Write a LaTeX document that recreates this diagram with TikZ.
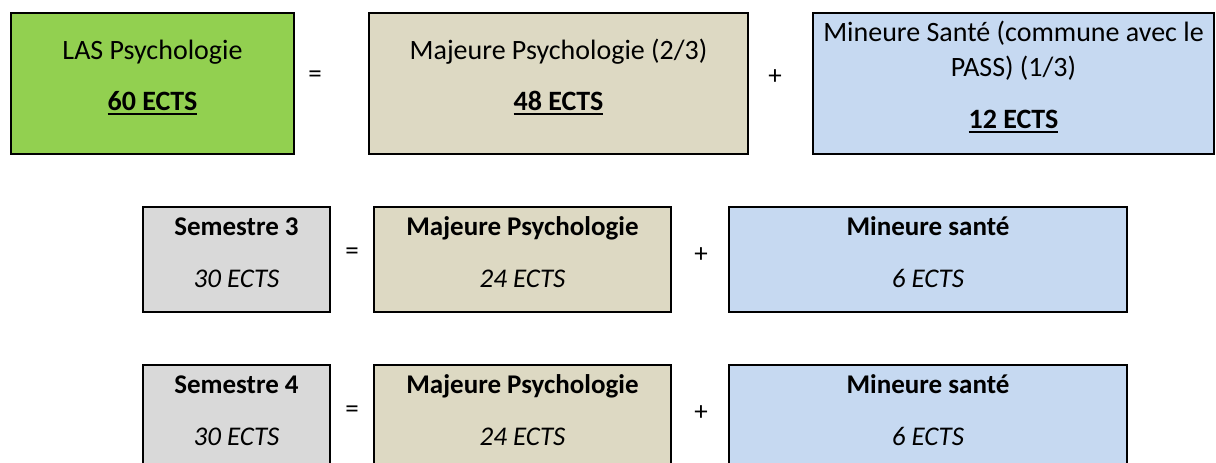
\documentclass[tikz,border=0pt]{standalone}
\usepackage{fontspec}
\setmainfont{Carlito}
\usepackage{tikz}
\definecolor{lasgreen}{RGB}{146,208,80}
\definecolor{majtan}{RGB}{221,217,195}
\definecolor{minblue}{RGB}{198,217,241}
\definecolor{semgray}{RGB}{217,217,217}
\newcommand{\ectsline}[1]{\setbox0\hbox{#1}\rlap{\rule[-5pt]{\wd0}{1.8pt}}\box0}

\begin{document}
\begin{tikzpicture}[x=1pt,y=-1pt,
    box/.style={draw=black,line width=2pt,inner xsep=2pt,align=center,%
        text height=55pt,text depth=0pt,font=\fontsize{27}{35}\selectfont},
    bigbox/.style={box,minimum height=141pt,font=\fontsize{28}{35}\selectfont},
    op/.style={font=\fontsize{27}{35}\selectfont}]
    \useasboundingbox (0,0) rectangle (1216,463);
    \clip (0,0) rectangle (1216,463);

    % Whole year
    \node[bigbox,fill=lasgreen,minimum width=283pt,text height=53pt] (las)
        at (152.5,83.5) {LAS Psychologie\\[16pt]\textbf{\ectsline{60 ECTS}}};
    \node[op] (eqTop) at (315,77) {=};
    \node[bigbox,fill=majtan,minimum width=379pt,text height=53pt] (majTop)
        at (558.5,83.5) {Majeure Psychologie (2/3)\\[16pt]\textbf{\ectsline{48 ECTS}}};
    \node[op] (plusTop) at (775,77) {+};
    \node[bigbox,fill=minblue,minimum width=401pt,text height=89pt] (minTop)
        at (1013.5,83.5) {Mineure Santé (commune avec le\\PASS) (1/3)\\[17pt]\textbf{\ectsline{12 ECTS}}};

    % Semesters
    \foreach \s/\y in {3/259.5,4/417.5} {
        \node[box,fill=semgray,minimum width=187pt,minimum height=105pt] (sem\s)
            at (236.5,\y) {\textbf{Semestre \s}\\[17pt]\textit{30 ECTS}};
        \node[op] (eq\s) at (352,\y-6) {=};
        \node[box,fill=majtan,minimum width=297pt,minimum height=105pt] (maj\s)
            at (522.5,\y) {\textbf{Majeure Psychologie}\\[17pt]\textit{24 ECTS}};
        \node[op] (plus\s) at (701,\y-4) {+};
        \node[box,fill=minblue,minimum width=398pt,minimum height=105pt] (min\s)
            at (928,\y) {\textbf{Mineure santé}\\[17pt]\textit{6 ECTS}};
    }
\end{tikzpicture}
\end{document}
